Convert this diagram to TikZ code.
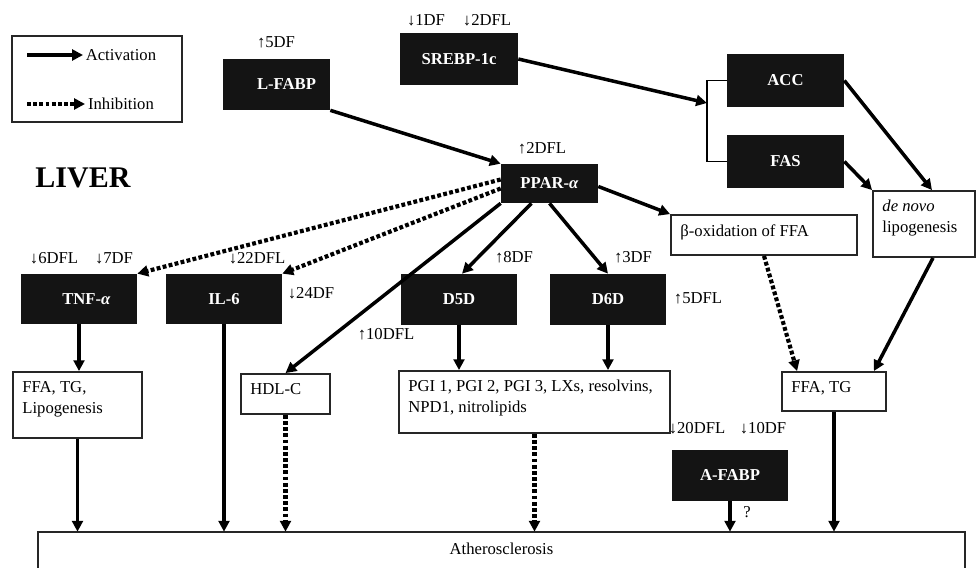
\documentclass[tikz,border=0pt]{standalone}
\usepackage{fontspec}
\setmainfont{Liberation Serif}
\usetikzlibrary{arrows.meta,calc}

\begin{document}
\begin{tikzpicture}[x=0.6pt,y=-0.6pt,
        font=\fontsize{10}{12.5}\selectfont,
        boxsize/.style 2 args={minimum width=#1*0.6pt,minimum height=#2*0.6pt},
        enzyme/.style={fill=black!92,text=white,inner sep=0pt,font=\fontsize{10}{12}\selectfont\bfseries},
        effect/.style={draw=black!85,line width=1.1pt,inner sep=0pt},
        efftext/.style={anchor=north west,align=left,inner sep=0pt,xshift=6pt,yshift=-6pt},
        change/.style={inner sep=0pt},
        act/.style={line width=2.1pt,-{Triangle[length=6.5pt,width=6.5pt]}},
        inh/.style={line width=2.5pt,dash pattern=on 2.3pt off 1.4pt,-{Triangle[length=6.5pt,width=6.5pt]}}]
    \useasboundingbox (0,0) rectangle (976,568);

    % Legend
    \node[effect,boxsize={170}{86}] (legend) at (97,79) {};
    \coordinate (actA) at (27,55);
    \coordinate (actB) at (83,55);
    \coordinate (inhA) at (27,104);
    \coordinate (inhB) at (85,104);
    \draw[act] (actA) -- (actB) node[right,inner sep=0.6pt] (actlabel) {Activation};
    \draw[inh] (inhA) -- (inhB) node[right,inner sep=0.6pt] (inhlabel) {Inhibition};

    \node[font=\fontsize{18}{20}\selectfont\bfseries] (liver) at (83,178) {LIVER};

    % Genes and enzymes
    \node[enzyme,boxsize={107}{51}] (lfabp) at (276.5,84.5) {\hspace{12pt}L-FABP};
    \node[enzyme,boxsize={118}{52}] (srebp) at (459,59) {SREBP-1c};
    \node[enzyme,boxsize={97}{39}] (ppar) at (549.5,183.5) {PPAR-\textit{α}};
    \node[enzyme,boxsize={117}{53}] (acc) at (785.5,80.5) {ACC};
    \node[enzyme,boxsize={117}{53}] (fas) at (785.5,161.5) {FAS};
    \node[enzyme,boxsize={116}{50}] (tnf) at (79,299) {\hspace{9pt}TNF-\textit{α}};
    \node[enzyme,boxsize={116}{50}] (il6) at (224,299) {IL-6};
    \node[enzyme,boxsize={116}{51}] (d5d) at (459,299.5) {D5D};
    \node[enzyme,boxsize={116}{51}] (d6d) at (608,299.5) {D6D};
    \node[enzyme,boxsize={116}{51}] (afabp) at (730,475.5) {A-FABP};

    % Effects
    \node[effect,boxsize={186}{40},label={[efftext]north west:β-oxidation of FFA}] (beta) at (764,235) {};
    \node[effect,boxsize={102}{66},label={[efftext]north west:\textit{de novo}\\lipogenesis}] (denovo) at (924,224) {};
    \node[effect,boxsize={129}{66},label={[efftext]north west:FFA, TG,\\Lipogenesis}] (ffa1) at (77.5,405) {};
    \node[effect,boxsize={89}{40},label={[efftext]north west:HDL-C}] (hdl) at (285.5,394) {};
    \node[effect,boxsize={271}{62},label={[efftext]north west:PGI 1, PGI 2, PGI 3, LXs, resolvins,\\NPD1, nitrolipids}] (pgi) at (534.5,402) {};
    \node[effect,boxsize={104}{39},label={[efftext]north west:FFA, TG}] (ffa2) at (834,391.5) {};
    \node[boxsize={927}{34}] (ather) at (501.5,549) {Atherosclerosis};
    \draw[line width=1.1pt,draw=black!85] ($(ather.south west)+(0,4)$) |- (ather.north east) -- ($(ather.south east)+(0,4)$);

    % Changes in expression
    \node[change] (lfabpchg) at (276,42) {↑5DF};
    \node[change] (srebpchgA) at (426,20) {↓1DF};
    \node[change] (srebpchgB) at (487,20) {↓2DFL};
    \node[change] (pparchg) at (542,148) {↑2DFL};
    \node[change] (tnfchgA) at (54,258) {↓6DFL};
    \node[change] (tnfchgB) at (114,258) {↓7DF};
    \node[change] (il6chgA) at (257,258) {↓22DFL};
    \node[change] (il6chgB) at (311,293) {↓24DF};
    \node[change] (hdlchg) at (386,334) {↑10DFL};
    \node[change] (d5dchg) at (514,257) {↑8DF};
    \node[change] (d6dchgA) at (633,257) {↑3DF};
    \node[change] (d6dchgB) at (698,298) {↑5DFL};
    \node[change] (afabpchgA) at (697,428) {↓20DFL};
    \node[change] (afabpchgB) at (763,428) {↓10DF};
    \node[change] (afabpq) at (747,512) {?};

    % Upper pathway
    \coordinate (brk) at (707,103);
    \draw[act] (lfabp.south east) -- (ppar.north west);
    \draw[act] (srebp.east) -- (brk);
    \draw[line width=1.1pt] (acc.west) -| (brk) |- (fas.west);
    \draw[act] (acc.east) -- ($(denovo.north)+(8,0)$);
    \draw[act] (fas.east) -- (denovo.north west);

    % From PPAR-alpha
    \draw[act] ($(ppar.east)+(0,3)$) -- (beta.north west);
    \draw[act] ($(ppar.south)+(-18,0)$) -- ($(d5d.north)+(3,0)$);
    \draw[act] (ppar.south) -- (d6d.north);
    \draw[act] (ppar.south west) -- (hdl.north);
    \draw[inh] ($(ppar.west)+(0,-4)$) -- (tnf.north east);
    \draw[inh] ($(ppar.west)+(0,5)$) -- (il6.north east);

    % Down to the effects
    \draw[act] (tnf.south) -- (tnf.south |- ffa1.north);
    \draw[act] (d5d.south) -- (d5d.south |- pgi.north);
    \draw[act] (d6d.south) -- (d6d.south |- pgi.north);
    \draw[inh] (beta.south) -- ($(ffa2.north west)+(16,0)$);
    \draw[act] ($(denovo.south)+(9,0)$) -- ($(ffa2.north east)+(-13,0)$);

    % Into atherosclerosis
    \draw[act] (ffa1.south) -- (ffa1.south |- ather.north);
    \draw[act] (il6.south) -- (il6.south |- ather.north);
    \draw[inh] (hdl.south) -- (hdl.south |- ather.north);
    \draw[inh] (pgi.south) -- (pgi.south |- ather.north);
    \draw[act] (afabp.south) -- (afabp.south |- ather.north);
    \draw[act] (ffa2.south) -- (ffa2.south |- ather.north);
\end{tikzpicture}
\end{document}
